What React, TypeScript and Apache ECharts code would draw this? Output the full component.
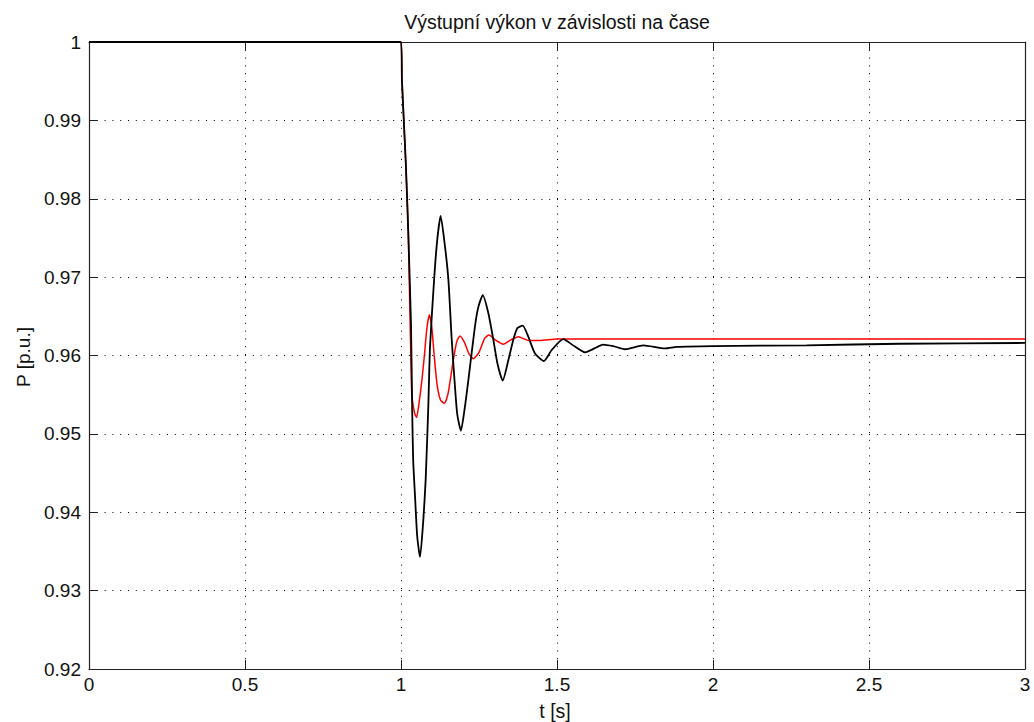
import React, { useEffect, useRef } from "react";
import * as echarts from "echarts";

const titleText = "Výstupní výkon v závislosti na čase";
const xLabel = "t [s]";
const yLabel = "P [p.u.]";

const xTicks = [0, 0.5, 1, 1.5, 2, 2.5, 3];
const yTicks = [0.92, 0.93, 0.94, 0.95, 0.96, 0.97, 0.98, 0.99, 1];

const tRed = [0, 1.0, 1.0032, 1.015, 1.0234, 1.034, 1.043, 1.05, 1.057, 1.066, 1.075, 1.083, 1.091, 1.099, 1.107, 1.116, 1.127, 1.139, 1.15, 1.16, 1.17, 1.179, 1.189, 1.203, 1.218, 1.232, 1.25, 1.268, 1.282, 1.302, 1.328, 1.352, 1.376, 1.41, 1.445, 1.5, 3.0];
const pRed = [1, 1, 0.9952, 0.9846, 0.976, 0.9555, 0.9527, 0.9521, 0.9537, 0.9565, 0.96, 0.9635, 0.9652, 0.9635, 0.9597, 0.9562, 0.9543, 0.9539, 0.955, 0.9574, 0.96, 0.9618, 0.9625, 0.9617, 0.9602, 0.9596, 0.9604, 0.9622, 0.9626, 0.962, 0.96145, 0.962, 0.9624, 0.9619, 0.9619, 0.9621, 0.9621];

const tBlack = [0, 1.0, 1.003, 1.015, 1.023, 1.032, 1.036, 1.039, 1.045, 1.052, 1.061, 1.0715, 1.079, 1.0875, 1.093, 1.106, 1.116, 1.127, 1.141, 1.152, 1.162, 1.17, 1.18, 1.192, 1.205, 1.216, 1.237, 1.248, 1.262, 1.28, 1.296, 1.309, 1.326, 1.344, 1.36, 1.373, 1.39, 1.408, 1.429, 1.458, 1.483, 1.52, 1.555, 1.59, 1.62, 1.647, 1.68, 1.718, 1.777, 1.846, 1.884, 2.0, 2.3, 2.6, 3.0];
const pBlack = [1, 1, 0.995, 0.985, 0.976, 0.9641, 0.9527, 0.9467, 0.942, 0.9369, 0.9343, 0.939, 0.9441, 0.9535, 0.9611, 0.9696, 0.9747, 0.9778, 0.9739, 0.9696, 0.9624, 0.9577, 0.9526, 0.9504, 0.9535, 0.9569, 0.9637, 0.9662, 0.9677, 0.9654, 0.962, 0.959, 0.9568, 0.9594, 0.962, 0.9635, 0.9638, 0.9624, 0.9603, 0.9593, 0.9607, 0.9621, 0.9612, 0.9604, 0.9609, 0.9614, 0.9612, 0.9608, 0.9613, 0.9609, 0.9611, 0.9612, 0.9613, 0.9615, 0.9616];

const FONT = "'Liberation Sans', Arial, Helvetica, sans-serif";

export default function App() {
  const ref = useRef<HTMLDivElement>(null);
  useEffect(() => {
    if (!ref.current) return;
    const chart = echarts.init(ref.current, null, { renderer: "svg" });
    const axisColor = "#222";
    const gridLine = { show: true, lineStyle: { color: "#000", width: 1, type: [1, 6.8] as any } };
    chart.setOption({
      animation: false,
      backgroundColor: "#fff",
      grid: { left: 89, right: 9, top: 42, bottom: 53, containLabel: false },
      xAxis: [
        {
          type: "value",
          min: xTicks[0],
          max: xTicks[xTicks.length - 1],
          interval: 0.5,
          position: "bottom",
          axisLine: { show: true, onZero: false, lineStyle: { color: axisColor, width: 1.2 } },
          axisTick: { show: true, inside: true, length: 9, lineStyle: { color: axisColor } },
          axisLabel: { color: "#111", fontFamily: FONT, fontSize: 19, margin: 6, formatter: (v: number) => String(+v.toFixed(2)) },
          splitLine: gridLine,
        },
        {
          type: "value",
          min: xTicks[0],
          max: xTicks[xTicks.length - 1],
          interval: 0.5,
          position: "top",
          axisLine: { show: true, onZero: false, lineStyle: { color: axisColor, width: 1.2 } },
          axisTick: { show: true, inside: true, length: 9, lineStyle: { color: axisColor } },
          axisLabel: { show: false },
          splitLine: { show: false },
        },
      ],
      yAxis: [
        {
          type: "value",
          min: yTicks[0],
          max: yTicks[yTicks.length - 1],
          interval: 0.01,
          position: "left",
          axisLine: { show: true, onZero: false, lineStyle: { color: axisColor, width: 1.2 } },
          axisTick: { show: true, inside: true, length: 9, lineStyle: { color: axisColor } },
          axisLabel: { color: "#111", fontFamily: FONT, fontSize: 19, margin: 8, formatter: (v: number) => String(+v.toFixed(2)) },
          splitLine: gridLine,
        },
        {
          type: "value",
          min: yTicks[0],
          max: yTicks[yTicks.length - 1],
          interval: 0.01,
          position: "right",
          axisLine: { show: true, onZero: false, lineStyle: { color: axisColor, width: 1.2 } },
          axisTick: { show: true, inside: true, length: 9, lineStyle: { color: axisColor } },
          axisLabel: { show: false },
          splitLine: { show: false },
        },
      ],
      series: [
        {
          type: "line",
          name: "red",
          data: tRed.map((t, i) => [t, pRed[i]]),
          showSymbol: false,
          symbol: "none",
          smooth: 0.2,
          lineStyle: { color: "#ff0000", width: 1.5 },
          z: 2,
        },
        {
          type: "line",
          name: "black",
          data: tBlack.map((t, i) => [t, pBlack[i]]),
          showSymbol: false,
          symbol: "none",
          smooth: 0.2,
          lineStyle: { color: "#000", width: 1.8 },
          z: 3,
        },
      ],
      graphic: [
        {
          type: "text",
          x: 557,
          y: 22,
          style: { text: titleText, font: `19.5px ${FONT}`, fill: "#111", textAlign: "center", textVerticalAlign: "middle" },
        },
        {
          type: "text",
          x: 555,
          y: 711,
          style: { text: xLabel, font: `19.5px ${FONT}`, fill: "#111", textAlign: "center", textVerticalAlign: "middle" },
        },
        {
          type: "text",
          x: 23,
          y: 357,
          rotation: Math.PI / 2,
          style: { text: yLabel, font: `19px ${FONT}`, fill: "#111", textAlign: "center", textVerticalAlign: "middle" },
        },
      ],
    });
    return () => chart.dispose();
  }, []);
  return <div ref={ref} style={{ position: "fixed", left: 0, top: 0, width: 1034, height: 722 }} />;
}
